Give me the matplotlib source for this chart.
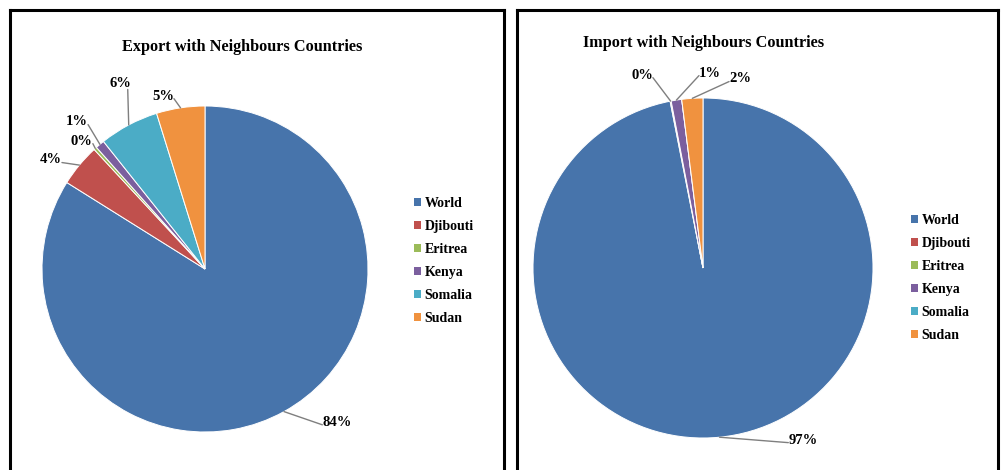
import matplotlib
matplotlib.use("Agg")
import matplotlib.pyplot as plt
from matplotlib.patches import Patch
import numpy as np

categories = ["World", "Djibouti", "Eritrea", "Kenya", "Somalia", "Sudan"]
export_values = [83.9, 4.2, 0.3, 0.9, 5.9, 4.8]
import_values = [96.9, 0.1, 0.0, 1.0, 0.0, 2.0]
export_title = "Export with Neighbours Countries"
import_title = "Import with Neighbours Countries"

colors = ["#4774AB", "#C0504D", "#9BBB59", "#7B5F9E", "#4BACC6", "#F0923F"]

# label text positions (pie radius = 1 units) and leader start points, layout only
export_label_pos = {0: (0.81, -0.94), 1: (-0.945, 0.669), 2: (-0.755, 0.785),
                    3: (-0.785, 0.902), 4: (-0.521, 1.141), 5: (-0.258, 1.061)}
export_relpos = {0: (0, 0.3), 1: (1, 0.3), 2: (1, 0.3), 3: (1, 0.3),
                 4: (0.85, 0), 5: (1, 0.3)}
import_label_pos = {0: (0.588, -1.012), 1: (-0.359, 1.135), 3: (0.041, 1.147),
                    5: (0.218, 1.112)}
import_relpos = {0: (0, 0.3), 1: (1, 0.3), 3: (0, 0.3), 5: (0, 0.3)}

W, H = 1001, 470
fig = plt.figure(figsize=(W / 100, H / 100), dpi=100)
FONT = "Liberation Serif"


def make_panel(px0, px1, cx, cy, r, values, title, title_xy, label_pos,
               relpos, leg_xy):
    ax = fig.add_axes([px0 / W, 0, (px1 - px0) / W, (H - 10) / H])
    wedges, _ = ax.pie(values, colors=colors, startangle=90, counterclock=False,
                       radius=1, center=(0, 0),
                       wedgeprops=dict(edgecolor="white", linewidth=0.7))
    ax.set_aspect("auto")
    ax.set_xlim((px0 - cx) / r, (px1 - cx) / r)
    ax.set_ylim((cy - H) / r, (cy - 10) / r)
    ax.set_frame_on(True)
    ax.set_xticks([])
    ax.set_yticks([])
    for s in ["top", "left", "right"]:
        ax.spines[s].set_linewidth(2.2)
        ax.spines[s].set_color("black")
    ax.spines["bottom"].set_visible(False)

    total = sum(values)
    for i, w in enumerate(wedges):
        if i not in label_pos:
            continue
        mid = np.deg2rad((w.theta1 + w.theta2) / 2)
        anchor = (np.cos(mid), np.sin(mid))
        pct = values[i] / total * 100
        ax.annotate(f"{pct:.0f}%", xy=anchor, xytext=label_pos[i],
                    ha="center", va="center", fontsize=10.5, fontweight="bold",
                    family=FONT,
                    arrowprops=dict(arrowstyle="-", color="#7f7f7f", lw=1.0,
                                    shrinkA=0, shrinkB=0, relpos=relpos[i],
                                    patchA=None))

    ax.text(title_xy[0], title_xy[1], title, ha="center", va="center",
            fontsize=11.7, fontweight="bold", family=FONT)

    handles = [Patch(facecolor=c, edgecolor="none") for c in colors]
    ax.legend(handles, categories, loc="upper left",
              bbox_to_anchor=(leg_xy[0] / W, 1 - leg_xy[1] / H),
              bbox_transform=fig.transFigure, frameon=False,
              borderpad=0, borderaxespad=0, handlelength=0.5,
              handleheight=0.5, handletextpad=0.25, labelspacing=0.72,
              prop=dict(family=FONT, weight="bold", size=10))
    return ax


make_panel(10, 504, 205, 269, 163, export_values, export_title,
           (0.227, 1.362), export_label_pos, export_relpos, (414, 197))
make_panel(517, 998, 703, 268, 170, import_values, import_title,
           (0.006, 1.324), import_label_pos, import_relpos, (911, 214))

fig.savefig("out.png", dpi=100)
